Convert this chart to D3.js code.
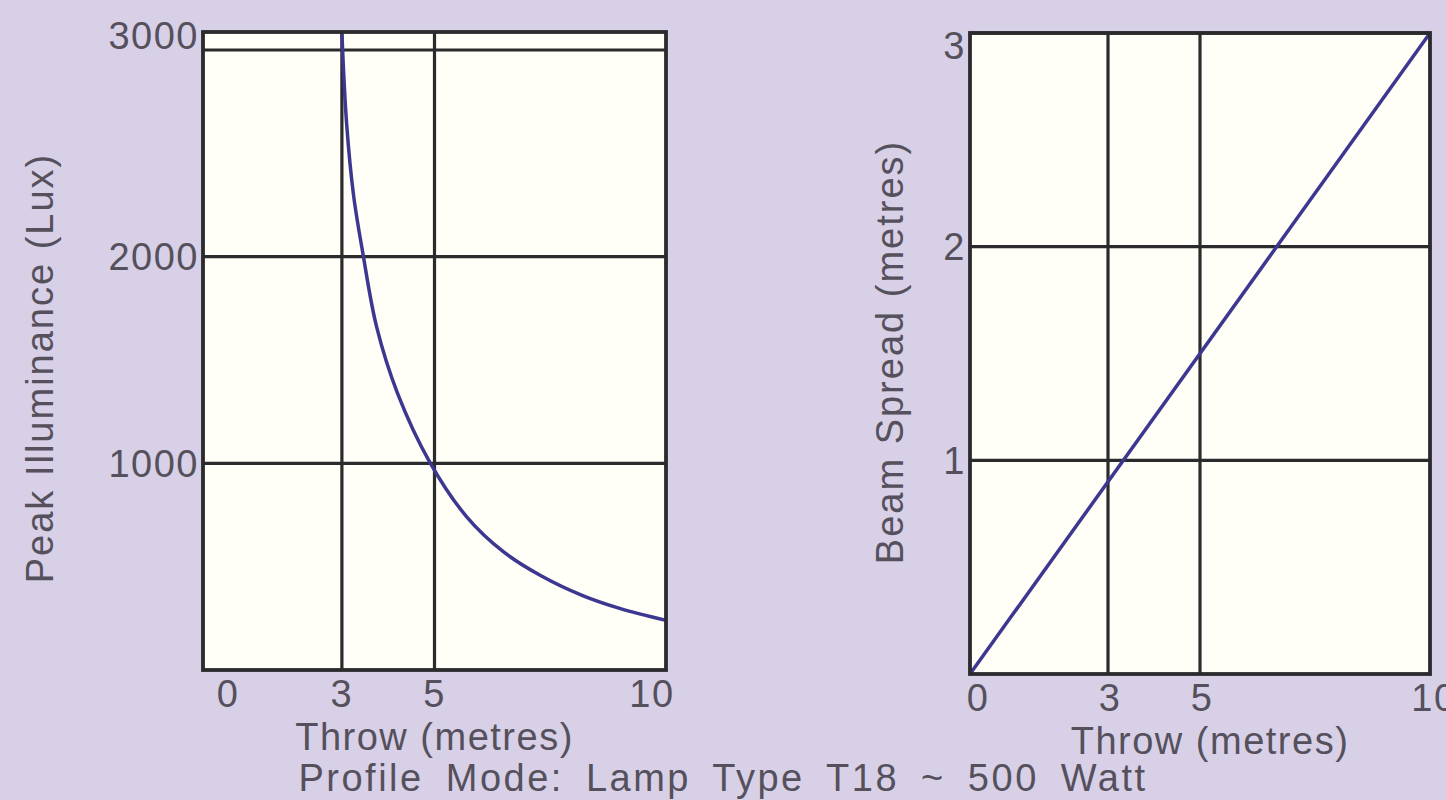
<!DOCTYPE html>
<html>
<head>
<meta charset="utf-8">
<script src="https://cdn.jsdelivr.net/npm/d3@7"></script>
<style>
  html, body { margin: 0; padding: 0; background: #d7d0e7; }
  svg { display: block; }
  text { font-family: "Liberation Sans", Arial, sans-serif; fill: #55505c; letter-spacing: 1.5px; }
</style>
</head>
<body>
<svg id="chart" width="1446" height="800"></svg>
<script>
// DATA
var throwTicks = [0, 3, 5, 10];
var illumTicks = [1000, 2000, 3000];
var spreadTicks = [1, 2, 3];

// peak illuminance curve
var illumThrow = [3.0, 3.1, 3.25, 3.45, 3.75, 4.2, 4.9, 5.7, 6.5, 7.3, 8.2, 9.0, 10];
var illumLux   = [3080, 2650, 2300, 2020, 1660, 1340, 1005, 740, 570, 456, 360, 298, 240];

// beam spread is a straight line
var spreadThrow = [0, 10];
var spreadMetres = [0, 3];

var svg = d3.select("#chart");
var fs = 38;

function panel(cfg) {
    var x = d3.scaleLinear().domain([0, 10]).range([cfg.left, cfg.right]);
    var y = d3.scaleLinear().domain(cfg.yDomain).range([cfg.bottom, cfg.top]);
    var g = svg.append("g");

    // paper
    g.append("rect")
        .attr("x", cfg.left).attr("y", cfg.top)
        .attr("width", cfg.right - cfg.left)
        .attr("height", cfg.bottom - cfg.top)
        .attr("fill", "#fffef7");

    // grid
    g.selectAll(".vgrid")
        .data(throwTicks.filter(function(d) { return d > 0 && d < 10; }))
        .enter().append("line")
        .attr("x1", function(d) { return x(d); })
        .attr("x2", function(d) { return x(d); })
        .attr("y1", cfg.top).attr("y2", cfg.bottom)
        .attr("stroke", "#2b2a2c").attr("stroke-width", 3.2);

    g.selectAll(".hgrid")
        .data(cfg.yTicks)
        .enter().append("line")
        .attr("x1", cfg.left).attr("x2", cfg.right)
        .attr("y1", function(d) { return y(d); })
        .attr("y2", function(d) { return y(d); })
        .attr("stroke", "#2b2a2c").attr("stroke-width", 3.2);

    // curve
    var line = d3.line()
        .x(function(d) { return x(d[0]); })
        .y(function(d) { return y(d[1]); })
        .curve(d3.curveCatmullRom.alpha(0.5));
    g.append("path")
        .datum(d3.zip(cfg.xs, cfg.ys))
        .attr("d", line)
        .attr("fill", "none")
        .attr("stroke", "#3c3790")
        .attr("stroke-width", 3.5);

    // frame
    g.append("rect")
        .attr("x", cfg.left).attr("y", cfg.top)
        .attr("width", cfg.right - cfg.left)
        .attr("height", cfg.bottom - cfg.top)
        .attr("fill", "none")
        .attr("stroke", "#2b2a2c").attr("stroke-width", 3.8);

    // x tick labels
    g.selectAll(".xlab")
        .data(throwTicks)
        .enter().append("text")
        .attr("x", function(d, i) { return x(d) + cfg.xLabelDx[i]; })
        .attr("y", cfg.bottom + 37)
        .attr("text-anchor", "middle")
        .attr("font-size", fs)
        .text(function(d) { return d; });

    // y tick labels
    g.selectAll(".ylab")
        .data(cfg.yTicks)
        .enter().append("text")
        .attr("x", cfg.left - 4)
        .attr("y", function(d, i) { return y(d) + cfg.yLabelDy[i]; })
        .attr("dy", "0.36em")
        .attr("text-anchor", "end")
        .attr("font-size", fs)
        .text(function(d) { return d; });

    // axis titles
    g.append("text")
        .attr("x", (cfg.left + cfg.right) / 2 + cfg.xTitleDx)
        .attr("y", cfg.bottom + 80)
        .attr("text-anchor", "middle")
        .attr("font-size", fs)
        .text("Throw (metres)");

    g.append("text")
        .attr("transform", "translate(" + cfg.yTitleX + "," + cfg.yTitleY + ") rotate(-90)")
        .attr("text-anchor", "middle")
        .attr("font-size", fs)
        .style("letter-spacing", "2px")
        .text(cfg.yTitle);
}

panel({
    left: 203, right: 666, top: 32, bottom: 670,
    yDomain: [0, 3087], yTicks: illumTicks, yLabelDy: [0, 0, -15],
    xLabelDx: [25, 0, 0, -14], xTitleDx: 0,
    xs: illumThrow, ys: illumLux,
    yTitle: "Peak Illuminance (Lux)", yTitleX: 53, yTitleY: 368
});

panel({
    left: 970, right: 1430, top: 33, bottom: 674,
    yDomain: [0, 3], yTicks: spreadTicks, yLabelDy: [0, 0, 12],
    xLabelDx: [8, 2, 2, 4], xTitleDx: 10,
    xs: spreadThrow, ys: spreadMetres,
    yTitle: "Beam Spread (metres)", yTitleX: 903, yTitleY: 352
});

svg.append("text")
    .attr("x", 723)
    .attr("y", 791)
    .attr("text-anchor", "middle")
    .attr("font-size", fs)
    .attr("word-spacing", "9px")
    .style("letter-spacing", "2.5px")
    .text("Profile Mode: Lamp Type T18 ~ 500 Watt");
</script>
</body>
</html>
